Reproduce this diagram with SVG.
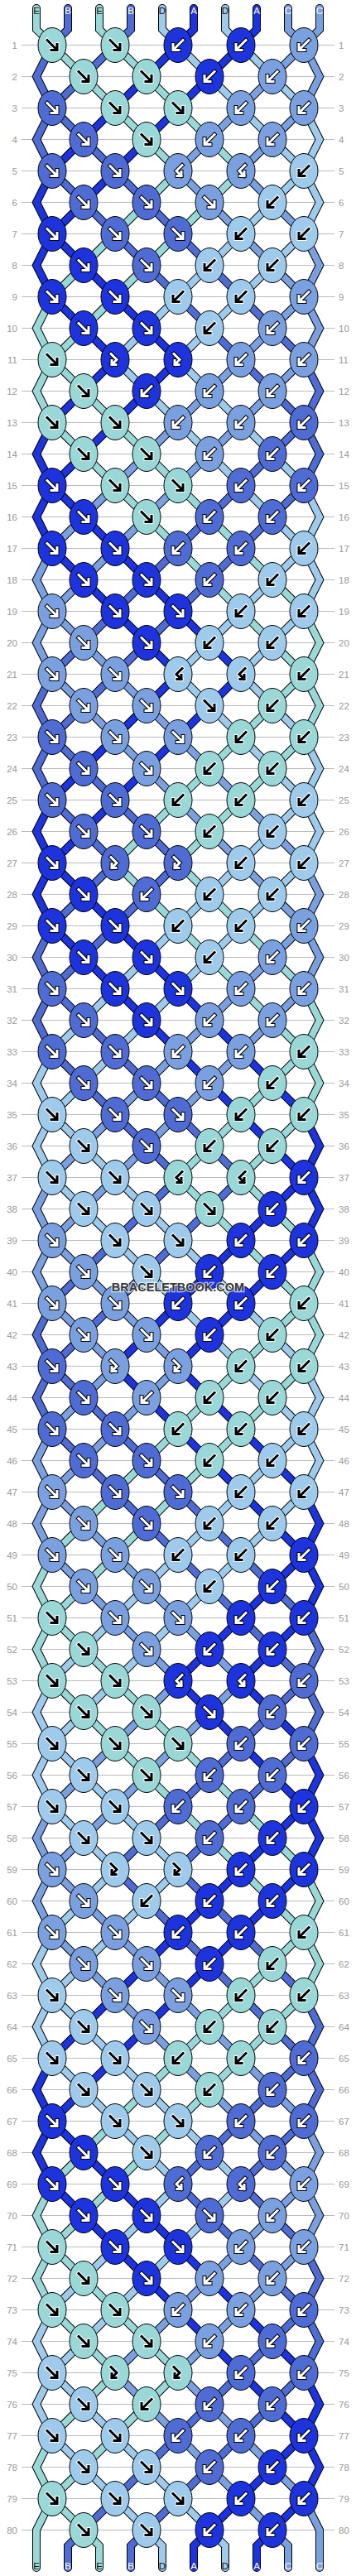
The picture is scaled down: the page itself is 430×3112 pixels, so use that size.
<svg xmlns="http://www.w3.org/2000/svg" width="430" height="3112" viewBox="0 0 430 3112">
<style>
text{font-family:"Liberation Sans",Arial,sans-serif}
.l,.r{font-size:11.5px;fill:#999}
.l{text-anchor:end}
.t{font-size:11.5px;text-anchor:middle}
.dk{fill:#111}.wt{fill:#fff}
.o{fill:none;stroke:#000;stroke-width:10;stroke-linecap:round;stroke-linejoin:miter}
.s{fill:none;stroke-width:8;stroke-linecap:round;stroke-linejoin:miter}
.sA{stroke:#1c33dd}.sB{stroke:#4f6bd4}.sC{stroke:#7aa0e0}.sD{stroke:#9ecbec}.sE{stroke:#9ad8d8}
.wm{font-size:14.5px;font-weight:bold;fill:#3a3a3a;text-anchor:middle;stroke:#fff;stroke-width:2.5;stroke-opacity:.7;paint-order:stroke}
</style>
<defs>
<path id="pf" d="M-6-6L5 5M6-1V6H-1"/>
<path id="pb" d="M6-6L-5 5M-6-1V6H1"/>
<path id="pfb" d="M-5-7L2 0L-4 6M-4 1V6H1"/>
<path id="pbf" d="M5-7L-2 0L4 6M4 1V6H-1"/>
<g id="wf" fill="none" stroke-linecap="square"><use href="#pf" stroke="#000" stroke-width="5"/><use href="#pf" stroke="#fff" stroke-width="3"/></g>
<g id="wb" fill="none" stroke-linecap="square"><use href="#pb" stroke="#000" stroke-width="5"/><use href="#pb" stroke="#fff" stroke-width="3"/></g>
<g id="wfb" fill="none" stroke-linecap="square"><use href="#pfb" stroke="#000" stroke-width="5"/><use href="#pfb" stroke="#fff" stroke-width="3"/></g>
<g id="wbf" fill="none" stroke-linecap="square"><use href="#pbf" stroke="#000" stroke-width="5"/><use href="#pbf" stroke="#fff" stroke-width="3"/></g>
<g id="kf" fill="none" stroke-linecap="square"><use href="#pf" stroke="#fff" stroke-width="5"/><use href="#pf" stroke="#000" stroke-width="3"/></g>
<g id="kb" fill="none" stroke-linecap="square"><use href="#pb" stroke="#fff" stroke-width="5"/><use href="#pb" stroke="#000" stroke-width="3"/></g>
<g id="kfb" fill="none" stroke-linecap="square"><use href="#pfb" stroke="#fff" stroke-width="5"/><use href="#pfb" stroke="#000" stroke-width="3"/></g>
<g id="kbf" fill="none" stroke-linecap="square"><use href="#pbf" stroke="#fff" stroke-width="5"/><use href="#pbf" stroke="#000" stroke-width="3"/></g>
<ellipse id="e" rx="17" ry="21" stroke="#000" stroke-width="1"/>
<g id="Af"><use href="#e" fill="#1c33dd"/><use href="#wf"/></g>
<g id="Ab"><use href="#e" fill="#1c33dd"/><use href="#wb"/></g>
<g id="Afb"><use href="#e" fill="#1c33dd"/><use href="#wfb"/></g>
<g id="Abf"><use href="#e" fill="#1c33dd"/><use href="#wbf"/></g>
<g id="Bf"><use href="#e" fill="#4f6bd4"/><use href="#wf"/></g>
<g id="Bb"><use href="#e" fill="#4f6bd4"/><use href="#wb"/></g>
<g id="Bfb"><use href="#e" fill="#4f6bd4"/><use href="#wfb"/></g>
<g id="Bbf"><use href="#e" fill="#4f6bd4"/><use href="#wbf"/></g>
<g id="Cf"><use href="#e" fill="#7aa0e0"/><use href="#wf"/></g>
<g id="Cb"><use href="#e" fill="#7aa0e0"/><use href="#wb"/></g>
<g id="Cfb"><use href="#e" fill="#7aa0e0"/><use href="#wfb"/></g>
<g id="Cbf"><use href="#e" fill="#7aa0e0"/><use href="#wbf"/></g>
<g id="Df"><use href="#e" fill="#9ecbec"/><use href="#kf"/></g>
<g id="Db"><use href="#e" fill="#9ecbec"/><use href="#kb"/></g>
<g id="Dfb"><use href="#e" fill="#9ecbec"/><use href="#kfb"/></g>
<g id="Dbf"><use href="#e" fill="#9ecbec"/><use href="#kbf"/></g>
<g id="Ef"><use href="#e" fill="#9ad8d8"/><use href="#kf"/></g>
<g id="Eb"><use href="#e" fill="#9ad8d8"/><use href="#kb"/></g>
<g id="Efb"><use href="#e" fill="#9ad8d8"/><use href="#kfb"/></g>
<g id="Ebf"><use href="#e" fill="#9ad8d8"/><use href="#kbf"/></g>
<polyline id="s0" points="44,-6.5 44,19 63,38 215,190 63,342 44,380 63,418 367,722 386,760 367,798 139,1026 367,1254 386,1292 367,1330 291,1406 367,1482 386,1520 367,1558 63,1862 44,1900 63,1938 367,2242 386,2280 367,2318 63,2622 44,2660 63,2698 215,2850 63,3002 44,3040 44,3085.5"/>
<polyline id="s1" points="82,-6.5 82,19 63,38 44,76 63,114 367,418 386,456 367,494 63,798 44,836 63,874 215,1026 63,1178 44,1216 63,1254 215,1406 63,1558 44,1596 63,1634 367,1938 386,1976 367,2014 139,2242 367,2470 386,2508 367,2546 291,2622 367,2698 386,2736 367,2774 101,3040 82,3059 82,3085.5"/>
<polyline id="s2" points="120,-6.5 120,19 139,38 291,190 63,418 44,456 63,494 367,798 386,836 367,874 215,1026 367,1178 386,1216 367,1254 215,1406 367,1558 386,1596 367,1634 63,1938 44,1976 63,2014 367,2318 386,2356 367,2394 63,2698 44,2736 63,2774 139,2850 63,2926 44,2964 63,3002 101,3040 120,3059 120,3085.5"/>
<polyline id="s3" points="158,-6.5 158,19 139,38 63,114 44,152 63,190 367,494 386,532 367,570 63,874 44,912 63,950 139,1026 63,1102 44,1140 63,1178 291,1406 63,1634 44,1672 63,1710 367,2014 386,2052 367,2090 215,2242 367,2394 386,2432 367,2470 215,2622 367,2774 386,2812 367,2850 177,3040 158,3059 158,3085.5"/>
<polyline id="s4" points="196,-6.5 196,19 215,38 367,190 386,228 367,266 215,418 367,570 386,608 367,646 215,798 367,950 386,988 367,1026 63,1330 44,1368 63,1406 367,1710 386,1748 367,1786 63,2090 44,2128 63,2166 139,2242 63,2318 44,2356 63,2394 291,2622 63,2850 44,2888 63,2926 177,3040 196,3059 196,3085.5"/>
<polyline id="s5" points="234,-6.5 234,19 215,38 63,190 44,228 63,266 215,418 63,570 44,608 63,646 215,798 63,950 44,988 63,1026 367,1330 386,1368 367,1406 139,1634 367,1862 386,1900 367,1938 291,2014 367,2090 386,2128 367,2166 63,2470 44,2508 63,2546 367,2850 386,2888 367,2926 253,3040 234,3059 234,3085.5"/>
<polyline id="s6" points="272,-6.5 272,19 291,38 367,114 386,152 367,190 139,418 367,646 386,684 367,722 291,798 367,874 386,912 367,950 63,1254 44,1292 63,1330 367,1634 386,1672 367,1710 63,2014 44,2052 63,2090 215,2242 63,2394 44,2432 63,2470 215,2622 63,2774 44,2812 63,2850 253,3040 272,3059 272,3085.5"/>
<polyline id="s7" points="310,-6.5 310,19 291,38 63,266 44,304 63,342 139,418 63,494 44,532 63,570 291,798 63,1026 44,1064 63,1102 367,1406 386,1444 367,1482 215,1634 367,1786 386,1824 367,1862 215,2014 367,2166 386,2204 367,2242 63,2546 44,2584 63,2622 367,2926 386,2964 367,3002 329,3040 310,3059 310,3085.5"/>
<polyline id="s8" points="348,-6.5 348,19 367,38 386,76 367,114 291,190 367,266 386,304 367,342 63,646 44,684 63,722 367,1026 386,1064 367,1102 63,1406 44,1444 63,1482 215,1634 63,1786 44,1824 63,1862 215,2014 63,2166 44,2204 63,2242 367,2546 386,2584 367,2622 139,2850 329,3040 348,3059 348,3085.5"/>
<polyline id="s9" points="386,-6.5 386,19 367,38 215,190 367,342 386,380 367,418 63,722 44,760 63,798 367,1102 386,1140 367,1178 63,1482 44,1520 63,1558 139,1634 63,1710 44,1748 63,1786 291,2014 63,2242 44,2280 63,2318 367,2622 386,2660 367,2698 215,2850 367,3002 386,3040 386,3085.5"/>
</defs>
<rect width="430" height="3112" fill="#fff"/>
<g transform="translate(0 16.5)">
<path id="gridlines" fill="none" stroke="#bbb" stroke-width="1" d="M26 38H404M26 76H404M26 114H404M26 152H404M26 190H404M26 228H404M26 266H404M26 304H404M26 342H404M26 380H404M26 418H404M26 456H404M26 494H404M26 532H404M26 570H404M26 608H404M26 646H404M26 684H404M26 722H404M26 760H404M26 798H404M26 836H404M26 874H404M26 912H404M26 950H404M26 988H404M26 1026H404M26 1064H404M26 1102H404M26 1140H404M26 1178H404M26 1216H404M26 1254H404M26 1292H404M26 1330H404M26 1368H404M26 1406H404M26 1444H404M26 1482H404M26 1520H404M26 1558H404M26 1596H404M26 1634H404M26 1672H404M26 1710H404M26 1748H404M26 1786H404M26 1824H404M26 1862H404M26 1900H404M26 1938H404M26 1976H404M26 2014H404M26 2052H404M26 2090H404M26 2128H404M26 2166H404M26 2204H404M26 2242H404M26 2280H404M26 2318H404M26 2356H404M26 2394H404M26 2432H404M26 2470H404M26 2508H404M26 2546H404M26 2584H404M26 2622H404M26 2660H404M26 2698H404M26 2736H404M26 2774H404M26 2812H404M26 2850H404M26 2888H404M26 2926H404M26 2964H404M26 3002H404M26 3040H404"/>
<g id="connectors">
<g class="o"><use href="#s0"/><use href="#s1"/><use href="#s2"/><use href="#s3"/><use href="#s4"/><use href="#s5"/><use href="#s6"/><use href="#s7"/><use href="#s8"/><use href="#s9"/></g>
<use href="#s0" class="s sE"/><use href="#s1" class="s sB"/><use href="#s2" class="s sE"/><use href="#s3" class="s sB"/><use href="#s4" class="s sD"/><use href="#s5" class="s sA"/><use href="#s6" class="s sD"/><use href="#s7" class="s sA"/><use href="#s8" class="s sC"/><use href="#s9" class="s sC"/>
</g>
<g id="row1" transform="translate(0 38)"><text class="l" x="21" y="4">1</text><text class="r" x="409" y="4">1</text><g id="k1-1"><use href="#Ef" x="63"/></g><g id="k1-2"><use href="#Ef" x="139"/></g><g id="k1-3"><use href="#Ab" x="215"/></g><g id="k1-4"><use href="#Ab" x="291"/></g><g id="k1-5"><use href="#Cb" x="367"/></g></g>
<g id="row2" transform="translate(0 76)"><text class="l" x="21" y="4">2</text><text class="r" x="409" y="4">2</text><g id="k2-1"><use href="#Ef" x="101"/></g><g id="k2-2"><use href="#Ef" x="177"/></g><g id="k2-3"><use href="#Ab" x="253"/></g><g id="k2-4"><use href="#Cb" x="329"/></g></g>
<g id="row3" transform="translate(0 114)"><text class="l" x="21" y="4">3</text><text class="r" x="409" y="4">3</text><g id="k3-1"><use href="#Bf" x="63"/></g><g id="k3-2"><use href="#Ef" x="139"/></g><g id="k3-3"><use href="#Ef" x="215"/></g><g id="k3-4"><use href="#Cb" x="291"/></g><g id="k3-5"><use href="#Cb" x="367"/></g></g>
<g id="row4" transform="translate(0 152)"><text class="l" x="21" y="4">4</text><text class="r" x="409" y="4">4</text><g id="k4-1"><use href="#Bf" x="101"/></g><g id="k4-2"><use href="#Ef" x="177"/></g><g id="k4-3"><use href="#Cb" x="253"/></g><g id="k4-4"><use href="#Cb" x="329"/></g></g>
<g id="row5" transform="translate(0 190)"><text class="l" x="21" y="4">5</text><text class="r" x="409" y="4">5</text><g id="k5-1"><use href="#Bf" x="63"/></g><g id="k5-2"><use href="#Bf" x="139"/></g><g id="k5-3"><use href="#Cbf" x="215"/></g><g id="k5-4"><use href="#Cbf" x="291"/></g><g id="k5-5"><use href="#Db" x="367"/></g></g>
<g id="row6" transform="translate(0 228)"><text class="l" x="21" y="4">6</text><text class="r" x="409" y="4">6</text><g id="k6-1"><use href="#Bf" x="101"/></g><g id="k6-2"><use href="#Bf" x="177"/></g><g id="k6-3"><use href="#Cf" x="253"/></g><g id="k6-4"><use href="#Db" x="329"/></g></g>
<g id="row7" transform="translate(0 266)"><text class="l" x="21" y="4">7</text><text class="r" x="409" y="4">7</text><g id="k7-1"><use href="#Af" x="63"/></g><g id="k7-2"><use href="#Bf" x="139"/></g><g id="k7-3"><use href="#Bf" x="215"/></g><g id="k7-4"><use href="#Db" x="291"/></g><g id="k7-5"><use href="#Db" x="367"/></g></g>
<g id="row8" transform="translate(0 304)"><text class="l" x="21" y="4">8</text><text class="r" x="409" y="4">8</text><g id="k8-1"><use href="#Af" x="101"/></g><g id="k8-2"><use href="#Bf" x="177"/></g><g id="k8-3"><use href="#Db" x="253"/></g><g id="k8-4"><use href="#Db" x="329"/></g></g>
<g id="row9" transform="translate(0 342)"><text class="l" x="21" y="4">9</text><text class="r" x="409" y="4">9</text><g id="k9-1"><use href="#Af" x="63"/></g><g id="k9-2"><use href="#Af" x="139"/></g><g id="k9-3"><use href="#Db" x="215"/></g><g id="k9-4"><use href="#Db" x="291"/></g><g id="k9-5"><use href="#Cb" x="367"/></g></g>
<g id="row10" transform="translate(0 380)"><text class="l" x="21" y="4">10</text><text class="r" x="409" y="4">10</text><g id="k10-1"><use href="#Af" x="101"/></g><g id="k10-2"><use href="#Af" x="177"/></g><g id="k10-3"><use href="#Db" x="253"/></g><g id="k10-4"><use href="#Cb" x="329"/></g></g>
<g id="row11" transform="translate(0 418)"><text class="l" x="21" y="4">11</text><text class="r" x="409" y="4">11</text><g id="k11-1"><use href="#Ef" x="63"/></g><g id="k11-2"><use href="#Afb" x="139"/></g><g id="k11-3"><use href="#Afb" x="215"/></g><g id="k11-4"><use href="#Cb" x="291"/></g><g id="k11-5"><use href="#Cb" x="367"/></g></g>
<g id="row12" transform="translate(0 456)"><text class="l" x="21" y="4">12</text><text class="r" x="409" y="4">12</text><g id="k12-1"><use href="#Ef" x="101"/></g><g id="k12-2"><use href="#Ab" x="177"/></g><g id="k12-3"><use href="#Cb" x="253"/></g><g id="k12-4"><use href="#Cb" x="329"/></g></g>
<g id="row13" transform="translate(0 494)"><text class="l" x="21" y="4">13</text><text class="r" x="409" y="4">13</text><g id="k13-1"><use href="#Ef" x="63"/></g><g id="k13-2"><use href="#Ef" x="139"/></g><g id="k13-3"><use href="#Cb" x="215"/></g><g id="k13-4"><use href="#Cb" x="291"/></g><g id="k13-5"><use href="#Bb" x="367"/></g></g>
<g id="row14" transform="translate(0 532)"><text class="l" x="21" y="4">14</text><text class="r" x="409" y="4">14</text><g id="k14-1"><use href="#Ef" x="101"/></g><g id="k14-2"><use href="#Ef" x="177"/></g><g id="k14-3"><use href="#Cb" x="253"/></g><g id="k14-4"><use href="#Bb" x="329"/></g></g>
<g id="row15" transform="translate(0 570)"><text class="l" x="21" y="4">15</text><text class="r" x="409" y="4">15</text><g id="k15-1"><use href="#Af" x="63"/></g><g id="k15-2"><use href="#Ef" x="139"/></g><g id="k15-3"><use href="#Ef" x="215"/></g><g id="k15-4"><use href="#Bb" x="291"/></g><g id="k15-5"><use href="#Bb" x="367"/></g></g>
<g id="row16" transform="translate(0 608)"><text class="l" x="21" y="4">16</text><text class="r" x="409" y="4">16</text><g id="k16-1"><use href="#Af" x="101"/></g><g id="k16-2"><use href="#Ef" x="177"/></g><g id="k16-3"><use href="#Bb" x="253"/></g><g id="k16-4"><use href="#Bb" x="329"/></g></g>
<g id="row17" transform="translate(0 646)"><text class="l" x="21" y="4">17</text><text class="r" x="409" y="4">17</text><g id="k17-1"><use href="#Af" x="63"/></g><g id="k17-2"><use href="#Af" x="139"/></g><g id="k17-3"><use href="#Bb" x="215"/></g><g id="k17-4"><use href="#Bb" x="291"/></g><g id="k17-5"><use href="#Db" x="367"/></g></g>
<g id="row18" transform="translate(0 684)"><text class="l" x="21" y="4">18</text><text class="r" x="409" y="4">18</text><g id="k18-1"><use href="#Af" x="101"/></g><g id="k18-2"><use href="#Af" x="177"/></g><g id="k18-3"><use href="#Bb" x="253"/></g><g id="k18-4"><use href="#Db" x="329"/></g></g>
<g id="row19" transform="translate(0 722)"><text class="l" x="21" y="4">19</text><text class="r" x="409" y="4">19</text><g id="k19-1"><use href="#Cf" x="63"/></g><g id="k19-2"><use href="#Af" x="139"/></g><g id="k19-3"><use href="#Af" x="215"/></g><g id="k19-4"><use href="#Db" x="291"/></g><g id="k19-5"><use href="#Db" x="367"/></g></g>
<g id="row20" transform="translate(0 760)"><text class="l" x="21" y="4">20</text><text class="r" x="409" y="4">20</text><g id="k20-1"><use href="#Cf" x="101"/></g><g id="k20-2"><use href="#Af" x="177"/></g><g id="k20-3"><use href="#Db" x="253"/></g><g id="k20-4"><use href="#Db" x="329"/></g></g>
<g id="row21" transform="translate(0 798)"><text class="l" x="21" y="4">21</text><text class="r" x="409" y="4">21</text><g id="k21-1"><use href="#Cf" x="63"/></g><g id="k21-2"><use href="#Cf" x="139"/></g><g id="k21-3"><use href="#Dbf" x="215"/></g><g id="k21-4"><use href="#Dbf" x="291"/></g><g id="k21-5"><use href="#Eb" x="367"/></g></g>
<g id="row22" transform="translate(0 836)"><text class="l" x="21" y="4">22</text><text class="r" x="409" y="4">22</text><g id="k22-1"><use href="#Cf" x="101"/></g><g id="k22-2"><use href="#Cf" x="177"/></g><g id="k22-3"><use href="#Df" x="253"/></g><g id="k22-4"><use href="#Eb" x="329"/></g></g>
<g id="row23" transform="translate(0 874)"><text class="l" x="21" y="4">23</text><text class="r" x="409" y="4">23</text><g id="k23-1"><use href="#Bf" x="63"/></g><g id="k23-2"><use href="#Cf" x="139"/></g><g id="k23-3"><use href="#Cf" x="215"/></g><g id="k23-4"><use href="#Eb" x="291"/></g><g id="k23-5"><use href="#Eb" x="367"/></g></g>
<g id="row24" transform="translate(0 912)"><text class="l" x="21" y="4">24</text><text class="r" x="409" y="4">24</text><g id="k24-1"><use href="#Bf" x="101"/></g><g id="k24-2"><use href="#Cf" x="177"/></g><g id="k24-3"><use href="#Eb" x="253"/></g><g id="k24-4"><use href="#Eb" x="329"/></g></g>
<g id="row25" transform="translate(0 950)"><text class="l" x="21" y="4">25</text><text class="r" x="409" y="4">25</text><g id="k25-1"><use href="#Bf" x="63"/></g><g id="k25-2"><use href="#Bf" x="139"/></g><g id="k25-3"><use href="#Eb" x="215"/></g><g id="k25-4"><use href="#Eb" x="291"/></g><g id="k25-5"><use href="#Db" x="367"/></g></g>
<g id="row26" transform="translate(0 988)"><text class="l" x="21" y="4">26</text><text class="r" x="409" y="4">26</text><g id="k26-1"><use href="#Bf" x="101"/></g><g id="k26-2"><use href="#Bf" x="177"/></g><g id="k26-3"><use href="#Eb" x="253"/></g><g id="k26-4"><use href="#Db" x="329"/></g></g>
<g id="row27" transform="translate(0 1026)"><text class="l" x="21" y="4">27</text><text class="r" x="409" y="4">27</text><g id="k27-1"><use href="#Af" x="63"/></g><g id="k27-2"><use href="#Bfb" x="139"/></g><g id="k27-3"><use href="#Bfb" x="215"/></g><g id="k27-4"><use href="#Db" x="291"/></g><g id="k27-5"><use href="#Db" x="367"/></g></g>
<g id="row28" transform="translate(0 1064)"><text class="l" x="21" y="4">28</text><text class="r" x="409" y="4">28</text><g id="k28-1"><use href="#Af" x="101"/></g><g id="k28-2"><use href="#Bb" x="177"/></g><g id="k28-3"><use href="#Db" x="253"/></g><g id="k28-4"><use href="#Db" x="329"/></g></g>
<g id="row29" transform="translate(0 1102)"><text class="l" x="21" y="4">29</text><text class="r" x="409" y="4">29</text><g id="k29-1"><use href="#Af" x="63"/></g><g id="k29-2"><use href="#Af" x="139"/></g><g id="k29-3"><use href="#Db" x="215"/></g><g id="k29-4"><use href="#Db" x="291"/></g><g id="k29-5"><use href="#Cb" x="367"/></g></g>
<g id="row30" transform="translate(0 1140)"><text class="l" x="21" y="4">30</text><text class="r" x="409" y="4">30</text><g id="k30-1"><use href="#Af" x="101"/></g><g id="k30-2"><use href="#Af" x="177"/></g><g id="k30-3"><use href="#Db" x="253"/></g><g id="k30-4"><use href="#Cb" x="329"/></g></g>
<g id="row31" transform="translate(0 1178)"><text class="l" x="21" y="4">31</text><text class="r" x="409" y="4">31</text><g id="k31-1"><use href="#Bf" x="63"/></g><g id="k31-2"><use href="#Af" x="139"/></g><g id="k31-3"><use href="#Af" x="215"/></g><g id="k31-4"><use href="#Cb" x="291"/></g><g id="k31-5"><use href="#Cb" x="367"/></g></g>
<g id="row32" transform="translate(0 1216)"><text class="l" x="21" y="4">32</text><text class="r" x="409" y="4">32</text><g id="k32-1"><use href="#Bf" x="101"/></g><g id="k32-2"><use href="#Af" x="177"/></g><g id="k32-3"><use href="#Cb" x="253"/></g><g id="k32-4"><use href="#Cb" x="329"/></g></g>
<g id="row33" transform="translate(0 1254)"><text class="l" x="21" y="4">33</text><text class="r" x="409" y="4">33</text><g id="k33-1"><use href="#Bf" x="63"/></g><g id="k33-2"><use href="#Bf" x="139"/></g><g id="k33-3"><use href="#Cb" x="215"/></g><g id="k33-4"><use href="#Cb" x="291"/></g><g id="k33-5"><use href="#Eb" x="367"/></g></g>
<g id="row34" transform="translate(0 1292)"><text class="l" x="21" y="4">34</text><text class="r" x="409" y="4">34</text><g id="k34-1"><use href="#Bf" x="101"/></g><g id="k34-2"><use href="#Bf" x="177"/></g><g id="k34-3"><use href="#Cb" x="253"/></g><g id="k34-4"><use href="#Eb" x="329"/></g></g>
<g id="row35" transform="translate(0 1330)"><text class="l" x="21" y="4">35</text><text class="r" x="409" y="4">35</text><g id="k35-1"><use href="#Df" x="63"/></g><g id="k35-2"><use href="#Bf" x="139"/></g><g id="k35-3"><use href="#Bf" x="215"/></g><g id="k35-4"><use href="#Eb" x="291"/></g><g id="k35-5"><use href="#Eb" x="367"/></g></g>
<g id="row36" transform="translate(0 1368)"><text class="l" x="21" y="4">36</text><text class="r" x="409" y="4">36</text><g id="k36-1"><use href="#Df" x="101"/></g><g id="k36-2"><use href="#Bf" x="177"/></g><g id="k36-3"><use href="#Eb" x="253"/></g><g id="k36-4"><use href="#Eb" x="329"/></g></g>
<g id="row37" transform="translate(0 1406)"><text class="l" x="21" y="4">37</text><text class="r" x="409" y="4">37</text><g id="k37-1"><use href="#Df" x="63"/></g><g id="k37-2"><use href="#Df" x="139"/></g><g id="k37-3"><use href="#Ebf" x="215"/></g><g id="k37-4"><use href="#Ebf" x="291"/></g><g id="k37-5"><use href="#Ab" x="367"/></g></g>
<g id="row38" transform="translate(0 1444)"><text class="l" x="21" y="4">38</text><text class="r" x="409" y="4">38</text><g id="k38-1"><use href="#Df" x="101"/></g><g id="k38-2"><use href="#Df" x="177"/></g><g id="k38-3"><use href="#Ef" x="253"/></g><g id="k38-4"><use href="#Ab" x="329"/></g></g>
<g id="row39" transform="translate(0 1482)"><text class="l" x="21" y="4">39</text><text class="r" x="409" y="4">39</text><g id="k39-1"><use href="#Cf" x="63"/></g><g id="k39-2"><use href="#Df" x="139"/></g><g id="k39-3"><use href="#Df" x="215"/></g><g id="k39-4"><use href="#Ab" x="291"/></g><g id="k39-5"><use href="#Ab" x="367"/></g></g>
<g id="row40" transform="translate(0 1520)"><text class="l" x="21" y="4">40</text><text class="r" x="409" y="4">40</text><g id="k40-1"><use href="#Cf" x="101"/></g><g id="k40-2"><use href="#Df" x="177"/></g><g id="k40-3"><use href="#Ab" x="253"/></g><g id="k40-4"><use href="#Ab" x="329"/></g></g>
<g id="row41" transform="translate(0 1558)"><text class="l" x="21" y="4">41</text><text class="r" x="409" y="4">41</text><g id="k41-1"><use href="#Cf" x="63"/></g><g id="k41-2"><use href="#Cf" x="139"/></g><g id="k41-3"><use href="#Ab" x="215"/></g><g id="k41-4"><use href="#Ab" x="291"/></g><g id="k41-5"><use href="#Eb" x="367"/></g></g>
<g id="row42" transform="translate(0 1596)"><text class="l" x="21" y="4">42</text><text class="r" x="409" y="4">42</text><g id="k42-1"><use href="#Cf" x="101"/></g><g id="k42-2"><use href="#Cf" x="177"/></g><g id="k42-3"><use href="#Ab" x="253"/></g><g id="k42-4"><use href="#Eb" x="329"/></g></g>
<g id="row43" transform="translate(0 1634)"><text class="l" x="21" y="4">43</text><text class="r" x="409" y="4">43</text><g id="k43-1"><use href="#Bf" x="63"/></g><g id="k43-2"><use href="#Cfb" x="139"/></g><g id="k43-3"><use href="#Cfb" x="215"/></g><g id="k43-4"><use href="#Eb" x="291"/></g><g id="k43-5"><use href="#Eb" x="367"/></g></g>
<g id="row44" transform="translate(0 1672)"><text class="l" x="21" y="4">44</text><text class="r" x="409" y="4">44</text><g id="k44-1"><use href="#Bf" x="101"/></g><g id="k44-2"><use href="#Cb" x="177"/></g><g id="k44-3"><use href="#Eb" x="253"/></g><g id="k44-4"><use href="#Eb" x="329"/></g></g>
<g id="row45" transform="translate(0 1710)"><text class="l" x="21" y="4">45</text><text class="r" x="409" y="4">45</text><g id="k45-1"><use href="#Bf" x="63"/></g><g id="k45-2"><use href="#Bf" x="139"/></g><g id="k45-3"><use href="#Eb" x="215"/></g><g id="k45-4"><use href="#Eb" x="291"/></g><g id="k45-5"><use href="#Db" x="367"/></g></g>
<g id="row46" transform="translate(0 1748)"><text class="l" x="21" y="4">46</text><text class="r" x="409" y="4">46</text><g id="k46-1"><use href="#Bf" x="101"/></g><g id="k46-2"><use href="#Bf" x="177"/></g><g id="k46-3"><use href="#Eb" x="253"/></g><g id="k46-4"><use href="#Db" x="329"/></g></g>
<g id="row47" transform="translate(0 1786)"><text class="l" x="21" y="4">47</text><text class="r" x="409" y="4">47</text><g id="k47-1"><use href="#Cf" x="63"/></g><g id="k47-2"><use href="#Bf" x="139"/></g><g id="k47-3"><use href="#Bf" x="215"/></g><g id="k47-4"><use href="#Db" x="291"/></g><g id="k47-5"><use href="#Db" x="367"/></g></g>
<g id="row48" transform="translate(0 1824)"><text class="l" x="21" y="4">48</text><text class="r" x="409" y="4">48</text><g id="k48-1"><use href="#Cf" x="101"/></g><g id="k48-2"><use href="#Bf" x="177"/></g><g id="k48-3"><use href="#Db" x="253"/></g><g id="k48-4"><use href="#Db" x="329"/></g></g>
<g id="row49" transform="translate(0 1862)"><text class="l" x="21" y="4">49</text><text class="r" x="409" y="4">49</text><g id="k49-1"><use href="#Cf" x="63"/></g><g id="k49-2"><use href="#Cf" x="139"/></g><g id="k49-3"><use href="#Db" x="215"/></g><g id="k49-4"><use href="#Db" x="291"/></g><g id="k49-5"><use href="#Ab" x="367"/></g></g>
<g id="row50" transform="translate(0 1900)"><text class="l" x="21" y="4">50</text><text class="r" x="409" y="4">50</text><g id="k50-1"><use href="#Cf" x="101"/></g><g id="k50-2"><use href="#Cf" x="177"/></g><g id="k50-3"><use href="#Db" x="253"/></g><g id="k50-4"><use href="#Ab" x="329"/></g></g>
<g id="row51" transform="translate(0 1938)"><text class="l" x="21" y="4">51</text><text class="r" x="409" y="4">51</text><g id="k51-1"><use href="#Ef" x="63"/></g><g id="k51-2"><use href="#Cf" x="139"/></g><g id="k51-3"><use href="#Cf" x="215"/></g><g id="k51-4"><use href="#Ab" x="291"/></g><g id="k51-5"><use href="#Ab" x="367"/></g></g>
<g id="row52" transform="translate(0 1976)"><text class="l" x="21" y="4">52</text><text class="r" x="409" y="4">52</text><g id="k52-1"><use href="#Ef" x="101"/></g><g id="k52-2"><use href="#Cf" x="177"/></g><g id="k52-3"><use href="#Ab" x="253"/></g><g id="k52-4"><use href="#Ab" x="329"/></g></g>
<g id="row53" transform="translate(0 2014)"><text class="l" x="21" y="4">53</text><text class="r" x="409" y="4">53</text><g id="k53-1"><use href="#Ef" x="63"/></g><g id="k53-2"><use href="#Ef" x="139"/></g><g id="k53-3"><use href="#Abf" x="215"/></g><g id="k53-4"><use href="#Abf" x="291"/></g><g id="k53-5"><use href="#Bb" x="367"/></g></g>
<g id="row54" transform="translate(0 2052)"><text class="l" x="21" y="4">54</text><text class="r" x="409" y="4">54</text><g id="k54-1"><use href="#Ef" x="101"/></g><g id="k54-2"><use href="#Ef" x="177"/></g><g id="k54-3"><use href="#Af" x="253"/></g><g id="k54-4"><use href="#Bb" x="329"/></g></g>
<g id="row55" transform="translate(0 2090)"><text class="l" x="21" y="4">55</text><text class="r" x="409" y="4">55</text><g id="k55-1"><use href="#Df" x="63"/></g><g id="k55-2"><use href="#Ef" x="139"/></g><g id="k55-3"><use href="#Ef" x="215"/></g><g id="k55-4"><use href="#Bb" x="291"/></g><g id="k55-5"><use href="#Bb" x="367"/></g></g>
<g id="row56" transform="translate(0 2128)"><text class="l" x="21" y="4">56</text><text class="r" x="409" y="4">56</text><g id="k56-1"><use href="#Df" x="101"/></g><g id="k56-2"><use href="#Ef" x="177"/></g><g id="k56-3"><use href="#Bb" x="253"/></g><g id="k56-4"><use href="#Bb" x="329"/></g></g>
<g id="row57" transform="translate(0 2166)"><text class="l" x="21" y="4">57</text><text class="r" x="409" y="4">57</text><g id="k57-1"><use href="#Df" x="63"/></g><g id="k57-2"><use href="#Df" x="139"/></g><g id="k57-3"><use href="#Bb" x="215"/></g><g id="k57-4"><use href="#Bb" x="291"/></g><g id="k57-5"><use href="#Ab" x="367"/></g></g>
<g id="row58" transform="translate(0 2204)"><text class="l" x="21" y="4">58</text><text class="r" x="409" y="4">58</text><g id="k58-1"><use href="#Df" x="101"/></g><g id="k58-2"><use href="#Df" x="177"/></g><g id="k58-3"><use href="#Bb" x="253"/></g><g id="k58-4"><use href="#Ab" x="329"/></g></g>
<g id="row59" transform="translate(0 2242)"><text class="l" x="21" y="4">59</text><text class="r" x="409" y="4">59</text><g id="k59-1"><use href="#Cf" x="63"/></g><g id="k59-2"><use href="#Dfb" x="139"/></g><g id="k59-3"><use href="#Dfb" x="215"/></g><g id="k59-4"><use href="#Ab" x="291"/></g><g id="k59-5"><use href="#Ab" x="367"/></g></g>
<g id="row60" transform="translate(0 2280)"><text class="l" x="21" y="4">60</text><text class="r" x="409" y="4">60</text><g id="k60-1"><use href="#Cf" x="101"/></g><g id="k60-2"><use href="#Db" x="177"/></g><g id="k60-3"><use href="#Ab" x="253"/></g><g id="k60-4"><use href="#Ab" x="329"/></g></g>
<g id="row61" transform="translate(0 2318)"><text class="l" x="21" y="4">61</text><text class="r" x="409" y="4">61</text><g id="k61-1"><use href="#Cf" x="63"/></g><g id="k61-2"><use href="#Cf" x="139"/></g><g id="k61-3"><use href="#Ab" x="215"/></g><g id="k61-4"><use href="#Ab" x="291"/></g><g id="k61-5"><use href="#Eb" x="367"/></g></g>
<g id="row62" transform="translate(0 2356)"><text class="l" x="21" y="4">62</text><text class="r" x="409" y="4">62</text><g id="k62-1"><use href="#Cf" x="101"/></g><g id="k62-2"><use href="#Cf" x="177"/></g><g id="k62-3"><use href="#Ab" x="253"/></g><g id="k62-4"><use href="#Eb" x="329"/></g></g>
<g id="row63" transform="translate(0 2394)"><text class="l" x="21" y="4">63</text><text class="r" x="409" y="4">63</text><g id="k63-1"><use href="#Df" x="63"/></g><g id="k63-2"><use href="#Cf" x="139"/></g><g id="k63-3"><use href="#Cf" x="215"/></g><g id="k63-4"><use href="#Eb" x="291"/></g><g id="k63-5"><use href="#Eb" x="367"/></g></g>
<g id="row64" transform="translate(0 2432)"><text class="l" x="21" y="4">64</text><text class="r" x="409" y="4">64</text><g id="k64-1"><use href="#Df" x="101"/></g><g id="k64-2"><use href="#Cf" x="177"/></g><g id="k64-3"><use href="#Eb" x="253"/></g><g id="k64-4"><use href="#Eb" x="329"/></g></g>
<g id="row65" transform="translate(0 2470)"><text class="l" x="21" y="4">65</text><text class="r" x="409" y="4">65</text><g id="k65-1"><use href="#Df" x="63"/></g><g id="k65-2"><use href="#Df" x="139"/></g><g id="k65-3"><use href="#Eb" x="215"/></g><g id="k65-4"><use href="#Eb" x="291"/></g><g id="k65-5"><use href="#Bb" x="367"/></g></g>
<g id="row66" transform="translate(0 2508)"><text class="l" x="21" y="4">66</text><text class="r" x="409" y="4">66</text><g id="k66-1"><use href="#Df" x="101"/></g><g id="k66-2"><use href="#Df" x="177"/></g><g id="k66-3"><use href="#Eb" x="253"/></g><g id="k66-4"><use href="#Bb" x="329"/></g></g>
<g id="row67" transform="translate(0 2546)"><text class="l" x="21" y="4">67</text><text class="r" x="409" y="4">67</text><g id="k67-1"><use href="#Af" x="63"/></g><g id="k67-2"><use href="#Df" x="139"/></g><g id="k67-3"><use href="#Df" x="215"/></g><g id="k67-4"><use href="#Bb" x="291"/></g><g id="k67-5"><use href="#Bb" x="367"/></g></g>
<g id="row68" transform="translate(0 2584)"><text class="l" x="21" y="4">68</text><text class="r" x="409" y="4">68</text><g id="k68-1"><use href="#Af" x="101"/></g><g id="k68-2"><use href="#Df" x="177"/></g><g id="k68-3"><use href="#Bb" x="253"/></g><g id="k68-4"><use href="#Bb" x="329"/></g></g>
<g id="row69" transform="translate(0 2622)"><text class="l" x="21" y="4">69</text><text class="r" x="409" y="4">69</text><g id="k69-1"><use href="#Af" x="63"/></g><g id="k69-2"><use href="#Af" x="139"/></g><g id="k69-3"><use href="#Bbf" x="215"/></g><g id="k69-4"><use href="#Bbf" x="291"/></g><g id="k69-5"><use href="#Cb" x="367"/></g></g>
<g id="row70" transform="translate(0 2660)"><text class="l" x="21" y="4">70</text><text class="r" x="409" y="4">70</text><g id="k70-1"><use href="#Af" x="101"/></g><g id="k70-2"><use href="#Af" x="177"/></g><g id="k70-3"><use href="#Bf" x="253"/></g><g id="k70-4"><use href="#Cb" x="329"/></g></g>
<g id="row71" transform="translate(0 2698)"><text class="l" x="21" y="4">71</text><text class="r" x="409" y="4">71</text><g id="k71-1"><use href="#Ef" x="63"/></g><g id="k71-2"><use href="#Af" x="139"/></g><g id="k71-3"><use href="#Af" x="215"/></g><g id="k71-4"><use href="#Cb" x="291"/></g><g id="k71-5"><use href="#Cb" x="367"/></g></g>
<g id="row72" transform="translate(0 2736)"><text class="l" x="21" y="4">72</text><text class="r" x="409" y="4">72</text><g id="k72-1"><use href="#Ef" x="101"/></g><g id="k72-2"><use href="#Af" x="177"/></g><g id="k72-3"><use href="#Cb" x="253"/></g><g id="k72-4"><use href="#Cb" x="329"/></g></g>
<g id="row73" transform="translate(0 2774)"><text class="l" x="21" y="4">73</text><text class="r" x="409" y="4">73</text><g id="k73-1"><use href="#Ef" x="63"/></g><g id="k73-2"><use href="#Ef" x="139"/></g><g id="k73-3"><use href="#Cb" x="215"/></g><g id="k73-4"><use href="#Cb" x="291"/></g><g id="k73-5"><use href="#Bb" x="367"/></g></g>
<g id="row74" transform="translate(0 2812)"><text class="l" x="21" y="4">74</text><text class="r" x="409" y="4">74</text><g id="k74-1"><use href="#Ef" x="101"/></g><g id="k74-2"><use href="#Ef" x="177"/></g><g id="k74-3"><use href="#Cb" x="253"/></g><g id="k74-4"><use href="#Bb" x="329"/></g></g>
<g id="row75" transform="translate(0 2850)"><text class="l" x="21" y="4">75</text><text class="r" x="409" y="4">75</text><g id="k75-1"><use href="#Df" x="63"/></g><g id="k75-2"><use href="#Efb" x="139"/></g><g id="k75-3"><use href="#Efb" x="215"/></g><g id="k75-4"><use href="#Bb" x="291"/></g><g id="k75-5"><use href="#Bb" x="367"/></g></g>
<g id="row76" transform="translate(0 2888)"><text class="l" x="21" y="4">76</text><text class="r" x="409" y="4">76</text><g id="k76-1"><use href="#Df" x="101"/></g><g id="k76-2"><use href="#Eb" x="177"/></g><g id="k76-3"><use href="#Bb" x="253"/></g><g id="k76-4"><use href="#Bb" x="329"/></g></g>
<g id="row77" transform="translate(0 2926)"><text class="l" x="21" y="4">77</text><text class="r" x="409" y="4">77</text><g id="k77-1"><use href="#Df" x="63"/></g><g id="k77-2"><use href="#Df" x="139"/></g><g id="k77-3"><use href="#Bb" x="215"/></g><g id="k77-4"><use href="#Bb" x="291"/></g><g id="k77-5"><use href="#Ab" x="367"/></g></g>
<g id="row78" transform="translate(0 2964)"><text class="l" x="21" y="4">78</text><text class="r" x="409" y="4">78</text><g id="k78-1"><use href="#Df" x="101"/></g><g id="k78-2"><use href="#Df" x="177"/></g><g id="k78-3"><use href="#Bb" x="253"/></g><g id="k78-4"><use href="#Ab" x="329"/></g></g>
<g id="row79" transform="translate(0 3002)"><text class="l" x="21" y="4">79</text><text class="r" x="409" y="4">79</text><g id="k79-1"><use href="#Ef" x="63"/></g><g id="k79-2"><use href="#Df" x="139"/></g><g id="k79-3"><use href="#Df" x="215"/></g><g id="k79-4"><use href="#Ab" x="291"/></g><g id="k79-5"><use href="#Ab" x="367"/></g></g>
<g id="row80" transform="translate(0 3040)"><text class="l" x="21" y="4">80</text><text class="r" x="409" y="4">80</text><g id="k80-1"><use href="#Ef" x="101"/></g><g id="k80-2"><use href="#Df" x="177"/></g><g id="k80-3"><use href="#Ab" x="253"/></g><g id="k80-4"><use href="#Ab" x="329"/></g></g>
</g>
<g id="strand-labels" class="t">
<text class="dk" x="44" y="17">E</text><text class="wt" x="82" y="17">B</text><text class="dk" x="120" y="17">E</text><text class="wt" x="158" y="17">B</text><text class="dk" x="196" y="17">D</text><text class="wt" x="234" y="17">A</text><text class="dk" x="272" y="17">D</text><text class="wt" x="310" y="17">A</text><text class="wt" x="348" y="17">C</text><text class="wt" x="386" y="17">C</text>
<text class="dk" x="44" y="3104">E</text><text class="wt" x="82" y="3104">B</text><text class="dk" x="120" y="3104">E</text><text class="wt" x="158" y="3104">B</text><text class="dk" x="196" y="3104">D</text><text class="wt" x="234" y="3104">A</text><text class="dk" x="272" y="3104">D</text><text class="wt" x="310" y="3104">A</text><text class="wt" x="348" y="3104">C</text><text class="wt" x="386" y="3104">C</text>
</g>
<text class="wm" x="215" y="1560">BRACELETBOOK.COM</text>
</svg>
